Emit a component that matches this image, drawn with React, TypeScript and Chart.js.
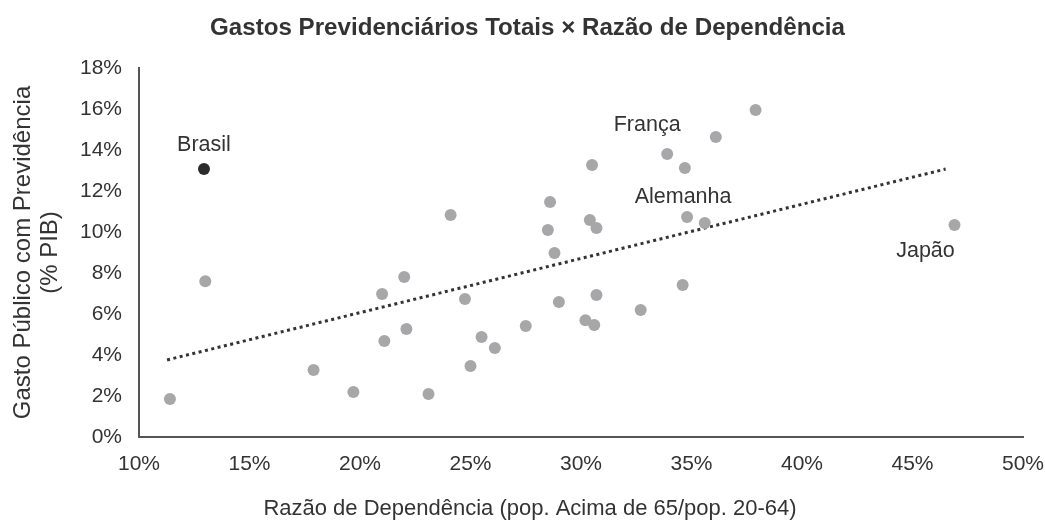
import React, { useEffect, useRef } from "react";
import { Chart, registerables } from "chart.js";

Chart.register(...registerables);

// Razão de dependência (%) and gasto previdenciário (% PIB) for the other countries
const otherX = [11.4, 13.0, 17.9, 19.7, 21.0, 21.1, 22.0, 22.1, 23.1, 24.1, 24.75, 25.0, 25.5, 26.1, 27.5, 28.5, 28.6, 28.8, 29.0, 30.2, 30.4, 30.5, 30.6, 30.7, 30.7, 32.7, 33.9, 34.7, 34.6, 34.8, 35.6, 36.1, 37.9, 46.9];
const otherY = [1.85, 7.6, 3.27, 2.2, 6.98, 4.68, 7.8, 5.27, 2.1, 10.83, 6.73, 3.46, 4.88, 4.34, 5.41, 10.1, 11.46, 8.98, 6.59, 5.7, 10.59, 13.27, 5.46, 10.2, 6.93, 6.2, 13.8, 13.12, 7.41, 10.73, 10.44, 14.63, 15.95, 10.34];

// Brasil highlighted
const brasilX = [12.94];
const brasilY = [13.07];

// Linear trend line endpoints
const trendX = [11.27, 46.5];
const trendY = [3.76, 13.07];

// Tick settings
const xTickMin = 10;
const xTickMax = 50;
const xTickStep = 5;
const yTickMin = 0;
const yTickMax = 18;
const yTickStep = 2;

// Labelled countries: [name, dataset index, point index]
const labelNames = ["Brasil", "França", "Alemanha", "Japão"];
const labelDataset = [1, 0, 0, 0];
const labelPoint = [0, 26, 29, 33];

const title = "Gastos Previdenciários Totais × Razão de Dependência";
const xTitle = "Razão de Dependência (pop. Acima de 65/pop. 20-64)";
const yTitleLines = ["Gasto Público com Previdência", "(% PIB)"];

const FONT = "'Liberation Sans', Arial, sans-serif";
const TEXT = "#333333";

// pixel offsets of annotation labels relative to their points (style)
const labelOffsets: [number, number][] = [
  [0, -24],
  [-20, -29],
  [-4, -20],
  [-29, 26],
];

const textPlugin = {
  id: "texts",
  afterDraw(chart: any) {
    const ctx = chart.ctx as CanvasRenderingContext2D;
    const area = chart.chartArea;
    ctx.save();
    ctx.fillStyle = TEXT;
    ctx.textBaseline = "middle";
    ctx.textAlign = "center";

    // title, condensed to match
    ctx.font = `bold 23px ${FONT}`;
    const tw = ctx.measureText(title).width;
    const target = 635;
    ctx.save();
    ctx.translate(527.5, 29);
    ctx.scale(target / tw, 1);
    ctx.fillText(title, 0, 0);
    ctx.restore();

    // x axis title
    ctx.font = `22px ${FONT}`;
    ctx.fillText(xTitle, 530, 509);

    // y axis title
    ctx.font = `24px ${FONT}`;
    ctx.save();
    ctx.translate(23, (area.top + area.bottom) / 2);
    ctx.rotate(-Math.PI / 2);
    ctx.fillText(yTitleLines[0], 0, 0);
    ctx.fillText(yTitleLines[1], 0, 27);
    ctx.restore();

    // annotations
    ctx.font = `21.5px ${FONT}`;
    labelNames.forEach((name, i) => {
      const meta = chart.getDatasetMeta(labelDataset[i]);
      const el = meta.data[labelPoint[i]];
      if (!el) return;
      const [dx, dy] = labelOffsets[i];
      ctx.fillText(name, el.x + dx, el.y + dy);
    });
    ctx.restore();
  },
};

export default function App() {
  const ref = useRef<HTMLCanvasElement | null>(null);

  useEffect(() => {
    if (!ref.current) return;
    const others = otherX.map((x, i) => ({ x, y: otherY[i] }));
    const brasil = brasilX.map((x, i) => ({ x, y: brasilY[i] }));
    const trend = trendX.map((x, i) => ({ x, y: trendY[i] }));

    const chart = new Chart(ref.current, {
      type: "scatter",
      data: {
        datasets: [
          {
            label: "Países",
            data: others,
            backgroundColor: "#a7a7aa",
            borderColor: "#a7a7aa",
            pointRadius: 6,
            pointHoverRadius: 6,
            borderWidth: 0,
          },
          {
            label: "Brasil",
            data: brasil,
            backgroundColor: "#2b2b2b",
            borderColor: "#2b2b2b",
            pointRadius: 6,
            pointHoverRadius: 6,
            borderWidth: 0,
          },
          {
            label: "Tendência",
            type: "line" as any,
            data: trend,
            borderColor: "#333333",
            borderWidth: 3,
            borderDash: [3, 3.5],
            pointRadius: 0,
            fill: false,
            showLine: true,
          } as any,
        ],
      },
      options: {
        animation: false,
        responsive: false,
        layout: { padding: { top: 68, right: 22, left: 0, bottom: 0 } },
        plugins: {
          legend: { display: false },
          title: { display: false },
          tooltip: { enabled: false },
        },
        scales: {
          x: {
            type: "linear",
            min: xTickMin,
            max: xTickMax,
            ticks: {
              stepSize: xTickStep,
              padding: 15,
              color: TEXT,
              font: { family: FONT, size: 21 },
              callback: (v: any) => `${v}%`,
            },
            grid: { display: false, drawTicks: false },
            border: { display: true, color: "#555555", width: 2 },
            afterFit: (s: any) => {
              s.height = 86;
              s.paddingLeft = 0;
              s.paddingRight = 0;
            },
          },
          y: {
            type: "linear",
            min: yTickMin,
            max: yTickMax,
            ticks: {
              stepSize: yTickStep,
              padding: 17,
              color: TEXT,
              font: { family: FONT, size: 21 },
              callback: (v: any) => `${v}%`,
            },
            grid: { display: false, drawTicks: false },
            border: { display: true, color: "#555555", width: 2 },
            afterFit: (s: any) => {
              s.width = 139;
              s.paddingTop = 0;
              s.paddingBottom = 0;
            },
          },
        },
      },
      plugins: [textPlugin],
    });
    return () => chart.destroy();
  }, []);

  return (
    <div style={{ position: "fixed", left: 0, top: 0, width: 1045, height: 523, background: "#fff" }}>
      <canvas ref={ref} width={1045} height={523} style={{ display: "block", width: 1045, height: 523 }} />
    </div>
  );
}
